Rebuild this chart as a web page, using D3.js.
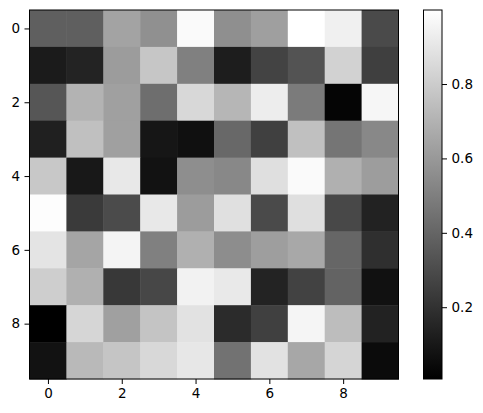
<!DOCTYPE html>
<html>
<head>
<meta charset="utf-8">
<script src="https://cdn.jsdelivr.net/npm/d3@7"></script>
<style>
  body { margin: 0; background: #fff; }
  svg text { font-family: "DejaVu Sans", sans-serif; font-size: 13.5px; fill: #000; }
</style>
</head>
<body>
<svg id="chart" width="483" height="413"></svg>
<script>
// values (rows top to bottom)
const rowLabels = [0, 1, 2, 3, 4, 5, 6, 7, 8, 9];
const colLabels = [0, 1, 2, 3, 4, 5, 6, 7, 8, 9];
const xTicks = [0, 2, 4, 6, 8];
const yTicks = [0, 2, 4, 6, 8];
const cbarTicks = [0.2, 0.4, 0.6, 0.8];

const row0 = [0.377, 0.377, 0.641, 0.567, 0.980, 0.563, 0.626, 0.999, 0.941, 0.295];
const row1 = [0.112, 0.143, 0.614, 0.777, 0.505, 0.120, 0.268, 0.330, 0.824, 0.252];
const row2 = [0.342, 0.703, 0.629, 0.435, 0.847, 0.715, 0.929, 0.485, 0.026, 0.964];
const row3 = [0.131, 0.754, 0.629, 0.093, 0.069, 0.412, 0.256, 0.754, 0.462, 0.536];
const row4 = [0.785, 0.100, 0.909, 0.077, 0.559, 0.536, 0.874, 0.980, 0.692, 0.618];
const row5 = [0.991, 0.233, 0.299, 0.909, 0.614, 0.878, 0.295, 0.874, 0.287, 0.139];
const row6 = [0.894, 0.649, 0.956, 0.505, 0.692, 0.555, 0.622, 0.661, 0.404, 0.190];
const row7 = [0.808, 0.692, 0.225, 0.283, 0.948, 0.913, 0.143, 0.264, 0.392, 0.073];
const row8 = [0.007, 0.839, 0.629, 0.769, 0.886, 0.174, 0.256, 0.960, 0.742, 0.139];
const row9 = [0.077, 0.727, 0.773, 0.847, 0.906, 0.450, 0.886, 0.657, 0.836, 0.050];
const rows = [row0, row1, row2, row3, row4, row5, row6, row7, row8, row9];

const cells = [];
rows.forEach((r, i) => r.forEach((v, j) => cells.push({ row: rowLabels[i], col: colLabels[j], v })));

const svg = d3.select("#chart");
const m = { left: 29.5, right: 398.5, top: 10, bottom: 379 };

const vmin = d3.min(cells, d => d.v), vmax = d3.max(cells, d => d.v);
const color = d3.scaleLinear().domain([vmin, vmax]).range(["#000", "#fff"]);

const x = d3.scaleLinear().domain([-0.5, 9.5]).range([m.left, m.right]);
const y = d3.scaleLinear().domain([-0.5, 9.5]).range([m.top, m.bottom]);

// === heatmap ===
svg.append("g").selectAll("rect")
    .data(cells).enter().append("rect")
    .attr("x", d => x(d.col - 0.5)).attr("y", d => y(d.row - 0.5))
    .attr("width", x(1) - x(0) + 0.5).attr("height", y(1) - y(0) + 0.5)
    .attr("fill", d => color(d.v));

svg.append("rect").attr("x", m.left).attr("y", m.top)
    .attr("width", m.right - m.left).attr("height", m.bottom - m.top)
    .attr("fill", "none").attr("stroke", "#000").attr("stroke-width", 1);

const xAxis = svg.append("g").attr("transform", `translate(0,${m.bottom})`)
    .call(d3.axisBottom(x).tickValues(xTicks).tickSize(5).tickPadding(4.5).tickFormat(d3.format("d")));
const yAxis = svg.append("g").attr("transform", `translate(${m.left},0)`)
    .call(d3.axisLeft(y).tickValues(yTicks).tickSize(5).tickPadding(4.5).tickFormat(d3.format("d")));
[xAxis, yAxis].forEach(a => {
    a.select(".domain").remove();
    a.selectAll("text").attr("font-size", null).attr("font-family", null);
});

// === colorbar ===
const cbLeft = 423.5, cbRight = 442;
const cy = d3.scaleLinear().domain([vmin, vmax]).range([m.bottom, m.top]);
const grad = svg.append("defs").append("linearGradient").attr("id", "cbgrad")
    .attr("x1", 0).attr("y1", 1).attr("x2", 0).attr("y2", 0);
grad.append("stop").attr("offset", 0).attr("stop-color", color(vmin));
grad.append("stop").attr("offset", 1).attr("stop-color", color(vmax));
svg.append("rect").attr("x", cbLeft).attr("y", m.top)
    .attr("width", cbRight - cbLeft).attr("height", m.bottom - m.top)
    .attr("fill", "url(#cbgrad)").attr("stroke", "#000").attr("stroke-width", 1);
const cAxis = svg.append("g").attr("transform", `translate(${cbRight},0)`)
    .call(d3.axisRight(cy).tickValues(cbarTicks).tickSize(5).tickPadding(4.5).tickFormat(d3.format(".1f")));
cAxis.select(".domain").remove();
cAxis.selectAll("text").attr("font-size", null).attr("font-family", null);
</script>
</body>
</html>
